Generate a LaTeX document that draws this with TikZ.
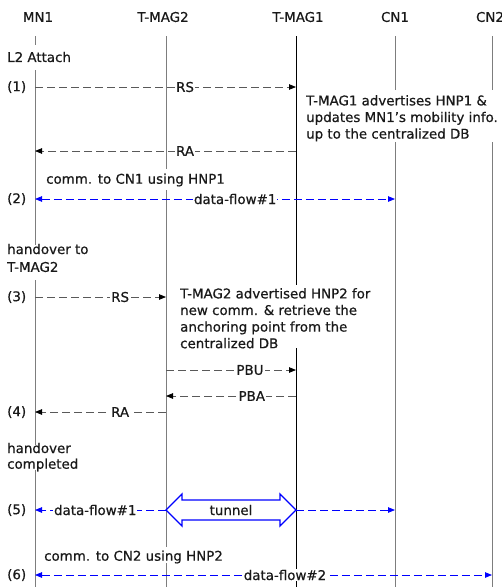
\documentclass[tikz,border=0pt]{standalone}
\usepackage{fontspec}
\setmainfont[FakeBold=0.6]{DejaVu Sans}
\usetikzlibrary{arrows.meta}
\definecolor{lifegray}{RGB}{125,125,125}
\definecolor{flowblue}{RGB}{0,0,255}
\definecolor{inkdark}{RGB}{25,25,25}

\begin{document}
\begin{tikzpicture}[x=1pt,y=-1pt,
  every node/.style={font=\fontsize{13.4}{16.6}\selectfont, text=inkdark},
  life/.style={draw=lifegray, line width=0.9pt},
  lifedark/.style={draw=black, line width=0.9pt},
  lbl/.style={fill=white, inner sep=1pt},
  note/.style={align=left, anchor=north west, inner sep=0pt},
  plain/.style={anchor=west, inner sep=0pt},
  msg/.style={draw=black!65, line width=0.8pt, dash pattern=on 8pt off 4pt,
    -{Triangle[length=7pt,width=5.5pt,fill=black,color=black]}},
  flow/.style={draw=flowblue, line width=0.8pt, dash pattern=on 8pt off 4pt,
    -{Triangle[length=7pt,width=5.5pt,fill=flowblue,color=flowblue]}},
  flowboth/.style={flow,
    {Triangle[length=7pt,width=5.5pt,fill=flowblue,color=flowblue]}-{Triangle[length=7pt,width=5.5pt,fill=flowblue,color=flowblue]}},
  tunnelarrow/.style={draw=flowblue, line width=1.3pt, line join=miter}
]
\useasboundingbox (0,0) rectangle (502,587);

% lifeline tops
\coordinate (MN1) at (35,36);
\coordinate (TM2) at (166,36);
\coordinate (TM1) at (296,36);
\coordinate (CN1) at (395,36);
\coordinate (CN2) at (492,36);

% headers
\node (hMN1) at (38,17) {MN1};
\node (hTM2) at (163,17) {T-MAG2};
\node (hTM1) at (298,17) {T-MAG1};
\node (hCN1) at (395,17) {CN1};
\node (hCN2) at (490,17) {CN2};

% lifelines, broken where text crosses them
\draw[life] (MN1) -- (35,45) (35,70) -- (35,245) (35,280) -- (35,445) (35,470) -- (35,587);
\draw[life] (TM2) -- (166,169) (166,190) -- (166,547) (166,563) -- (166,587);
\draw[lifedark] (TM1) -- (296,285) (296,348) -- (296,587);
\draw[life] (CN1) -- (395,90) (395,142) -- (395,587);
\draw[life] (CN2) -- (492,90) (492,142) -- (492,587);

% step labels
\node[plain] (s1) at (7,87) {(1)};
\node[plain] (s2) at (7,199) {(2)};
\node[plain] (s3) at (7,297) {(3)};
\node[plain] (s4) at (7,412) {(4)};
\node[plain] (s5) at (7,510) {(5)};
\node[plain] (s6) at (7,575) {(6)};
\coordinate (yRA1) at (0,151);
\coordinate (yPBU) at (0,370);
\coordinate (yPBA) at (0,396);

% phase notes
\node[plain] (l2) at (7,57) {L2 Attach};
\node[plain] (c1) at (46,180) {comm. to CN1 using HNP1};
\node[plain] (ho1) at (7,249) {handover to};
\node[plain] (ho2) at (7,267) {T-MAG2};
\node[plain] (hc1) at (7,448) {handover};
\node[plain] (hc2) at (7,465) {completed};
\node[plain] (c2) at (44,557) {comm. to CN2 using HNP2};
\node[note] (n1) at (306,95) {T-MAG1 advertises HNP1 \&\\updates MN1's mobility info.\\up to the centralized DB};
\node[note] (n2) at (180,288) {T-MAG2 advertised HNP2 for\\new comm. \& retrieve the\\anchoring point from the\\centralized DB};

% (1) attach at T-MAG1
\draw[msg] (MN1 |- s1) -- node[lbl, pos=0.575] {RS} (TM1 |- s1);
\draw[msg] (TM1 |- yRA1) -- node[lbl, pos=0.425] {RA} (MN1 |- yRA1);

% (2) traffic to CN1
\draw[flowboth] (MN1 |- s2) -- node[lbl, pos=0.556] {data-flow\#1} (CN1 |- s2);

% (3) attach at T-MAG2
\draw[msg] (MN1 |- s3) -- node[lbl, pos=0.65] {RS} (TM2 |- s3);
\draw[msg] (TM2 |- yPBU) -- node[lbl, pos=0.646] {PBU} (TM1 |- yPBU);
\draw[msg] (TM1 |- yPBA) -- node[lbl, pos=0.34] {PBA} (TM2 |- yPBA);

% (4)
\draw[msg] (TM2 |- s4) -- node[lbl, pos=0.35] {RA} (MN1 |- s4);

% (5) old flow through the tunnel
\draw[flow] (TM2 |- s5) -- node[lbl, pos=0.54] {data-flow\#1} (MN1 |- s5);
\draw[tunnelarrow] (166,510) -- (182,494) -- (182,500) -- (280,500) -- (280,494)
  -- (296,510) -- (280,526) -- (280,520) -- (182,520) -- (182,526) -- cycle;
\node (tun) at (231,510) {tunnel};
\draw[flow] (TM1 |- s5) -- (CN1 |- s5);

% (6) new flow to CN2
\draw[flowboth] (MN1 |- s6) -- node[lbl, pos=0.547] {data-flow\#2} (CN2 |- s6);
\end{tikzpicture}
\end{document}
